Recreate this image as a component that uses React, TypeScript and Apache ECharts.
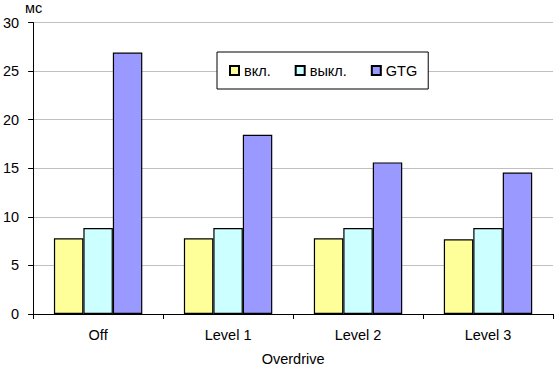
import React, { useEffect, useRef } from "react";
import * as echarts from "echarts";

const categories = ["Off", "Level 1", "Level 2", "Level 3"];
const seriesNames = ["вкл.", "выкл.", "GTG"];
const onValues = [7.8, 7.8, 7.8, 7.7];
const offValues = [8.85, 8.85, 8.85, 8.85];
const gtgValues = [26.9, 18.45, 15.6, 14.55];
const yTicks = { min: 0, max: 30, interval: 5 };
const xAxisTitle = "Overdrive";
const unitLabel = "мс";

const colors = ["#FFFF99", "#CCFFFF", "#9999FF"];
const FONT = "Liberation Sans, Arial, sans-serif";
const FS = 14.5;

export default function App() {
  const ref = useRef<HTMLDivElement>(null);
  useEffect(() => {
    if (!ref.current) return;
    const chart = echarts.init(ref.current, null, { renderer: "svg" });
    const values = [onValues, offValues, gtgValues];
    chart.setOption({
      animation: false,
      backgroundColor: "#ffffff",
      textStyle: { fontFamily: FONT, fontSize: FS, color: "#000" },
      grid: { left: 30, right: 1, top: 22.5, bottom: 55.5, containLabel: false },
      legend: {
        left: 217,
        top: 52,
        orient: "horizontal",
        backgroundColor: "#ffffff",
        borderColor: "#000",
        borderWidth: 1,
        borderRadius: 0,
        padding: [11, 11, 11, 12],
        itemWidth: 9,
        itemHeight: 9,
        itemGap: 24,
        icon: "rect",
        data: seriesNames,
        textStyle: { fontFamily: FONT, fontSize: FS, color: "#000" },
      },
      graphic: [
        {
          type: "text",
          left: 25,
          top: 0,
          style: { text: unitLabel, font: `${FS}px ${FONT}`, fill: "#000" },
        },
      ],
      xAxis: {
        type: "category",
        data: categories,
        name: xAxisTitle,
        nameLocation: "middle",
        nameGap: 37,
        nameTextStyle: { fontFamily: FONT, fontSize: FS, color: "#000" },
        axisLine: { lineStyle: { color: "#000", width: 1 } },
        axisTick: { show: true, length: 5, lineStyle: { color: "#000" } },
        axisLabel: { margin: 13, color: "#000", fontSize: FS, fontFamily: FONT },
        splitLine: { show: false },
      },
      yAxis: {
        type: "value",
        min: yTicks.min,
        max: yTicks.max,
        interval: yTicks.interval,
        axisLine: { show: true, lineStyle: { color: "#000", width: 1 } },
        axisTick: { show: true, length: 5, lineStyle: { color: "#000" } },
        axisLabel: { margin: 14, color: "#000", fontSize: FS, fontFamily: FONT },
        splitLine: { show: true, lineStyle: { color: "#C0C0C0", width: 1 } },
      },
      series: seriesNames.map((name, i) => ({
        name,
        type: "bar",
        data: values[i],
        barGap: "0%",
        barCategoryGap: "32%",
        itemStyle: { color: colors[i], borderColor: "#000", borderWidth: 1.2 },
      })),
    });
    return () => chart.dispose();
  }, []);
  return (
    <div
      ref={ref}
      style={{ position: "fixed", left: 0, top: 0, width: 554, height: 371 }}
    />
  );
}
